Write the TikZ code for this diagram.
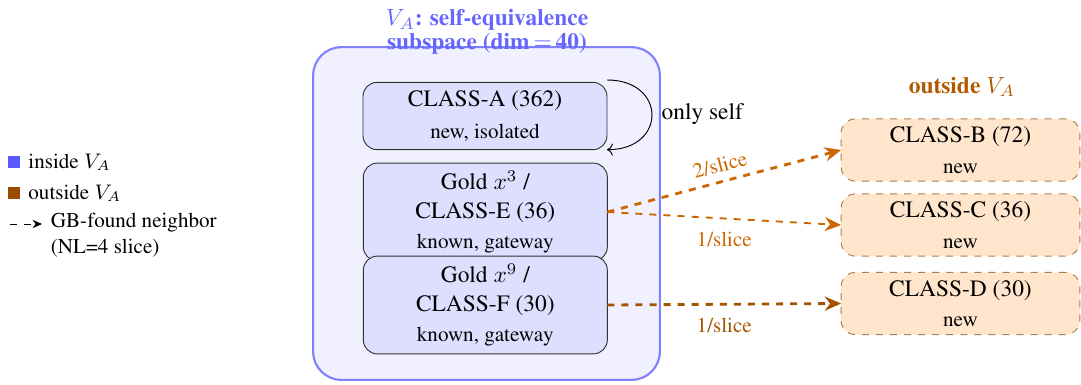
\documentclass[tikz,border=0pt]{standalone}
\usepackage[T1]{fontenc}
\usepackage{times}
\usetikzlibrary{arrows.meta}

\begin{document}
\begin{tikzpicture}[
  inbox/.style={draw=black!80, fill=blue!13, rounded corners=6pt, minimum width=3.66cm, align=center, outer sep=0pt},
  outbox/.style={draw=orange!55!black!70, dashed, fill=orange!20, rounded corners=6pt, minimum width=3.58cm, minimum height=0.9cm, align=center, outer sep=0pt},
  legsq/.style={minimum size=0.17cm, inner sep=0pt},
  gb/.style={dashed, -{Stealth[length=7pt,width=6pt]}},
  lbl/.style={font=\small}]
\useasboundingbox (0,0) rectangle (16.215,5.76);

% the subspace V_A
\node[draw=blue!50, fill=blue!6, line width=0.9pt, rounded corners=12pt, minimum width=5.2cm, minimum height=4.99cm] (VA) at (7.2975,2.5575) {};
\node[text=blue!60, font=\bfseries, align=center] (title) at (7.305,5.28) {$V_A$: self-equivalence\\[-2pt]subspace (dim\,$=$\,40)};

\node[inbox, minimum height=0.96cm] (A) at (7.275,4.02) {CLASS-A (362)\\[2pt]{\small new, isolated}};
\node[inbox, minimum height=1.38cm] (E) at (7.28,2.58) {Gold $x^3$ /\\CLASS-E (36)\\[1pt]{\small known, gateway}};
\node[inbox, minimum height=1.44cm] (F) at (7.28,1.185) {Gold $x^9$ /\\CLASS-F (30)\\[1pt]{\small known, gateway}};

% outside
\node[text=orange!70!black, font=\bfseries] (outl) at (14.43,4.455) {outside $V_A$};
\node[outbox] (B) at (14.4075,3.51) {CLASS-B (72)\\[1pt]{\small new}};
\node[outbox] (C) at (14.4075,2.385) {CLASS-C (36)\\[1pt]{\small new}};
\node[outbox] (D) at (14.4075,1.2075) {CLASS-D (30)\\[1pt]{\small new}};

% neighbors
\draw[->] ([yshift=1pt]A.north east) to[out=0,in=0,looseness=2.2] (A.south east);
\node[anchor=west] (only) at (9.8,4.05) {only self};
\draw[gb, orange!80!black, line width=1.2pt] (E.east) -- node[lbl, sloped, above] {2/slice} (B.west);
\draw[gb, orange!80!black, line width=0.8pt] (E.east) -- node[lbl, below=2pt] {1/slice} (C.west);
\draw[gb, orange!65!black, line width=1.2pt] (F.east) -- node[lbl, below=2pt] {1/slice} (D.west);

% legend
\node[legsq, fill=blue!65] (sqin) at (0.21,3.33) {};
\node[lbl, anchor=west] (lin) at (sqin.east) {inside $V_A$};
\node[legsq, fill=orange!60!black] (sqout) at (0.21,2.865) {};
\node[lbl, anchor=west] (lout) at (sqout.east) {outside $V_A$};
\coordinate (g1) at (0.15,2.4);
\coordinate (g2) at (0.63,2.4);
\draw[dashed, -{Stealth[length=4pt,width=3.5pt]}] (g1) -- (g2);
\node[lbl, anchor=west, align=left] (lgb) at (0.64,2.2275) {GB-found neighbor\\(NL=4 slice)};
\end{tikzpicture}
\end{document}
